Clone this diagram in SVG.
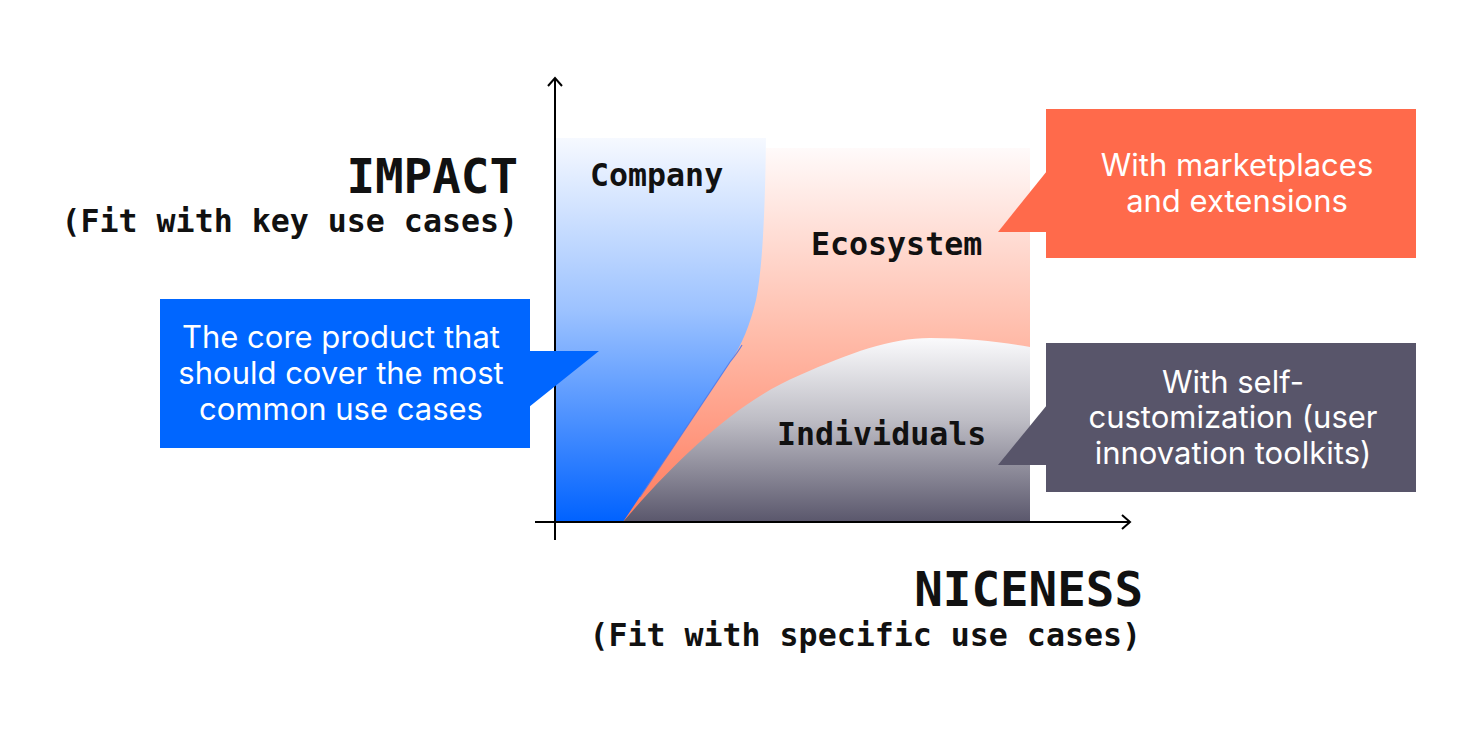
<svg xmlns="http://www.w3.org/2000/svg" width="1482" height="736" viewBox="0 0 1482 736">
<style>
.mono{font-family:"DejaVu Sans Mono","Liberation Mono",monospace;font-weight:bold;fill:#111}
.big{font-size:47.5px}
.mid{font-size:31.6px}
.call{font-family:Inter,"Noto Sans","Liberation Sans",sans-serif;font-size:31px;fill:#fff;text-anchor:middle}
.axis{stroke:#000;stroke-width:2;fill:none}
</style>
<defs>
<linearGradient id="gBlue" x1="0" y1="138" x2="0" y2="522" gradientUnits="userSpaceOnUse">
<stop offset="0" stop-color="#f6f9ff"/>
<stop offset="0.45" stop-color="#9cc2ff"/>
<stop offset="1" stop-color="#0062ff"/>
</linearGradient>
<linearGradient id="gSalmon" x1="0" y1="148" x2="0" y2="522" gradientUnits="userSpaceOnUse">
<stop offset="0" stop-color="#fffafa"/>
<stop offset="0.5" stop-color="#ffbcaa"/>
<stop offset="1" stop-color="#ff7a5c"/>
</linearGradient>
<linearGradient id="gGray" x1="0" y1="338" x2="0" y2="522" gradientUnits="userSpaceOnUse">
<stop offset="0" stop-color="#fafafc"/>
<stop offset="0.45" stop-color="#bdbcc4"/>
<stop offset="1" stop-color="#5a576c"/>
</linearGradient>
</defs>

<g id="regions">
<path id="ecosystem-area" d="M766,148 L1030,148 L1030,522 L600,522 L740,300 Z" fill="url(#gSalmon)"/>
<path id="company-area" d="M555,138 L766,138 C765,220 762,270 756,300 C750,325 742,345 730,362 L623,522 L555,522 Z" fill="url(#gBlue)"/>
<path d="M742,345 C738,352 734,357 730,362 L640,497" fill="none" stroke="#3f74f0" stroke-width="1.2" stroke-opacity="0.8"/>
<path id="individuals-area" d="M623,522 C680,455 740,400 800,375 C850,353 890,338 930,338 C970,338 1000,342 1030,347 L1030,522 Z" fill="url(#gGray)"/>
</g>

<g id="connectors">
<path class="axis" d="M555,540 L555,78"/>
<path class="axis" d="M548,86 L555,78 L562,86"/>
<path class="axis" d="M535,522 L1130,522"/>
<path class="axis" d="M1122,515 L1130,522 L1122,529"/>
</g>

<g id="label-company"><text class="mono mid" x="590" y="186">Company</text></g>
<g id="label-ecosystem"><text class="mono mid" x="811" y="255">Ecosystem</text></g>
<g id="label-individuals"><text class="mono mid" x="777" y="445">Individuals</text></g>

<g id="axis-y-title">
<text class="mono big" x="518" y="193" text-anchor="end">IMPACT</text>
<text class="mono mid" x="518" y="232" text-anchor="end">(Fit with key use cases)</text>
</g>
<g id="axis-x-title">
<text class="mono big" x="1143" y="606" text-anchor="end">NICENESS</text>
<text class="mono mid" x="1141" y="646" text-anchor="end">(Fit with specific use cases)</text>
</g>

<g id="callout-core">
<rect x="160" y="299" width="370" height="149" fill="#0066ff"/>
<polygon points="529,351 599,351 529,407" fill="#0066ff"/>
<text class="call" x="341" y="348">The core product that</text>
<text class="call" x="341" y="384">should cover the most</text>
<text class="call" x="341" y="420">common use cases</text>
</g>

<g id="callout-ecosystem">
<rect x="1046" y="109" width="370" height="149" fill="#ff6a4b"/>
<polygon points="1047,171 998,232 1047,232" fill="#ff6a4b"/>
<text class="call" x="1237" y="176">With marketplaces</text>
<text class="call" x="1237" y="212">and extensions</text>
</g>

<g id="callout-individuals">
<rect x="1046" y="343" width="370" height="149" fill="#58556a"/>
<polygon points="1047,405 998,465 1047,465" fill="#58556a"/>
<text class="call" x="1233" y="393">With self-</text>
<text class="call" x="1233" y="428">customization (user</text>
<text class="call" x="1233" y="464">innovation toolkits)</text>
</g>
</svg>
